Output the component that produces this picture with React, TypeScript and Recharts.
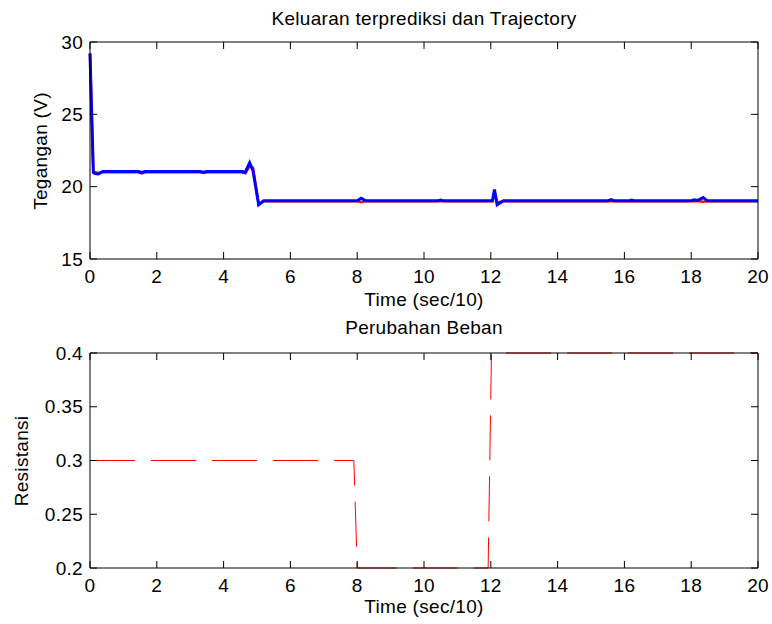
import React from 'react';
import { LineChart, Line, XAxis, YAxis } from 'recharts';

// ---- data ----
const timeTop = [0, 0.1, 0.15, 0.25, 0.38, 1.45, 1.55, 1.65, 3.3, 3.4, 3.5, 4.55, 4.65, 4.78, 4.88, 5.05, 5.2, 8.0, 8.12, 8.25, 10.4, 10.5, 10.6, 12.05, 12.11, 12.19, 12.38, 15.5, 15.6, 15.7, 16.12, 16.22, 16.32, 18.0, 18.09, 18.2, 18.36, 18.48, 20];
const keluaran = [29.2, 21.0, 20.9, 20.88, 21.05, 21.05, 20.98, 21.05, 21.05, 21.0, 21.05, 21.05, 21.0, 21.65, 21.1, 18.75, 19.02, 19.02, 19.2, 19.02, 19.02, 19.08, 19.02, 19.02, 19.8, 18.75, 19.02, 19.02, 19.1, 19.02, 19.02, 19.08, 19.02, 19.02, 19.1, 19.05, 19.25, 19.02, 19.02];
const trajectory = [29.2, 21.0, 21.0, 20.95, 21.0, 21.0, 20.92, 21.0, 21.0, 20.95, 21.0, 21.0, 20.92, 21.4, 21.3, 18.8, 19.0, 19.0, 18.93, 19.0, 19.0, 19.0, 19.0, 19.0, 19.6, 18.9, 19.0, 19.0, 19.0, 19.0, 19.0, 18.98, 19.0, 19.0, 19.0, 19.0, 18.95, 19.0, 19.0];

const timeBeban = [0, 7.9, 8.0, 11.92, 12.02, 20];
const resistansi = [0.3, 0.3, 0.2, 0.2, 0.4, 0.4];

const xTicks = [0, 2, 4, 6, 8, 10, 12, 14, 16, 18, 20];
const yTicksTop = [15, 20, 25, 30];
const yTicksBottom = [0.2, 0.25, 0.3, 0.35, 0.4];

const topRows = timeTop.map((t, i) => ({ t, keluaran: keluaran[i], trajectory: trajectory[i] }));
const bottomRows = timeBeban.map((t, i) => ({ t, r: resistansi[i] }));

const FONT = '"Liberation Sans", Arial, Helvetica, sans-serif';
const FS = 19;
const LS = 0.3;
const tickStyle = { fill: '#000', fontSize: FS, fontFamily: FONT, letterSpacing: LS };
const blank = () => '';

const textDiv = (extra: React.CSSProperties): React.CSSProperties => ({
  position: 'absolute',
  fontFamily: FONT,
  fontSize: FS,
  letterSpacing: LS,
  color: '#000',
  whiteSpace: 'nowrap',
  lineHeight: 1,
  ...extra,
});

export default function App() {
  return (
    <div style={{ position: 'absolute', left: 0, top: 0, width: 772, height: 624, background: '#fff', overflow: 'hidden' }}>
      <div style={{ position: 'absolute', left: 0, top: 0 }}>
        <LineChart width={772} height={310} data={topRows} margin={{ top: 41, right: 13, bottom: 0, left: 0 }}>
          <XAxis xAxisId="b" dataKey="t" type="number" domain={[0, 20]} ticks={xTicks} height={51}
            tickSize={-7} tickMargin={18} tick={tickStyle} axisLine={{ stroke: '#000' }} tickLine={{ stroke: '#000' }} interval={0} />
          <XAxis xAxisId="t" orientation="top" dataKey="t" type="number" domain={[0, 20]} ticks={xTicks} height={1}
            tickSize={-7} tickFormatter={blank} axisLine={{ stroke: '#000' }} tickLine={{ stroke: '#000' }} interval={0} />
          <YAxis yAxisId="l" type="number" domain={[15, 30]} ticks={yTicksTop} width={90}
            tickSize={-7} tickMargin={14} tick={tickStyle} axisLine={{ stroke: '#000' }} tickLine={{ stroke: '#000' }} interval={0} />
          <YAxis yAxisId="r" orientation="right" type="number" domain={[15, 30]} ticks={yTicksTop} width={1}
            tickSize={-7} tickFormatter={blank} axisLine={{ stroke: '#000' }} tickLine={{ stroke: '#000' }} interval={0} />
          <Line xAxisId="t" yAxisId="r" dataKey="trajectory" stroke="#ff0000" strokeWidth={2.5} dot={false} activeDot={false} isAnimationActive={false} type="linear" />
          <Line xAxisId="b" yAxisId="l" dataKey="keluaran" stroke="#0000ff" strokeWidth={3} dot={false} activeDot={false} isAnimationActive={false} type="linear" />
        </LineChart>
      </div>
      <div style={{ position: 'absolute', left: 0, top: 310 }}>
        <LineChart width={772} height={314} data={bottomRows} margin={{ top: 42, right: 13, bottom: 0, left: 0 }}>
          <XAxis xAxisId="b" dataKey="t" type="number" domain={[0, 20]} ticks={xTicks} height={56}
            tickSize={-7} tickMargin={18} tick={tickStyle} axisLine={{ stroke: '#000' }} tickLine={{ stroke: '#000' }} interval={0} />
          <XAxis xAxisId="t" orientation="top" dataKey="t" type="number" domain={[0, 20]} ticks={xTicks} height={1} allowDataOverflow
            tickSize={-7} tickFormatter={blank} axisLine={{ stroke: '#000' }} tickLine={{ stroke: '#000' }} interval={0} />
          <YAxis yAxisId="l" type="number" domain={[0.2, 0.4]} ticks={yTicksBottom} width={90}
            tickSize={-7} tickMargin={14} tick={tickStyle} axisLine={{ stroke: '#000' }} tickLine={{ stroke: '#000' }} interval={0}
            tickFormatter={(v: number) => String(v)} />
          <YAxis yAxisId="r" orientation="right" type="number" domain={[0.2, 0.4]} ticks={yTicksBottom} width={1} allowDataOverflow
            tickSize={-7} tickFormatter={blank} axisLine={{ stroke: '#000' }} tickLine={{ stroke: '#000' }} interval={0} />
          <Line xAxisId="b" yAxisId="l" dataKey="r" stroke="#ff0000" strokeWidth={1} strokeDasharray="45 16" dot={false} activeDot={false} isAnimationActive={false} type="linear" />
        </LineChart>
      </div>

      <div style={textDiv({ left: 424, top: 18, transform: 'translate(-50%, -50%)' })}>Keluaran terprediksi dan Trajectory</div>
      <div style={textDiv({ left: 424, top: 299, transform: 'translate(-50%, -50%)' })}>Time (sec/10)</div>
      <div style={textDiv({ left: 40, top: 151, transform: 'translate(-50%, -50%) rotate(-90deg)' })}>Tegangan (V)</div>
      <div style={textDiv({ left: 424, top: 327, transform: 'translate(-50%, -50%)' })}>Perubahan Beban</div>
      <div style={textDiv({ left: 424, top: 606, transform: 'translate(-50%, -50%)' })}>Time (sec/10)</div>
      <div style={textDiv({ left: 21, top: 461, transform: 'translate(-50%, -50%) rotate(-90deg)' })}>Resistansi</div>
    </div>
  );
}
